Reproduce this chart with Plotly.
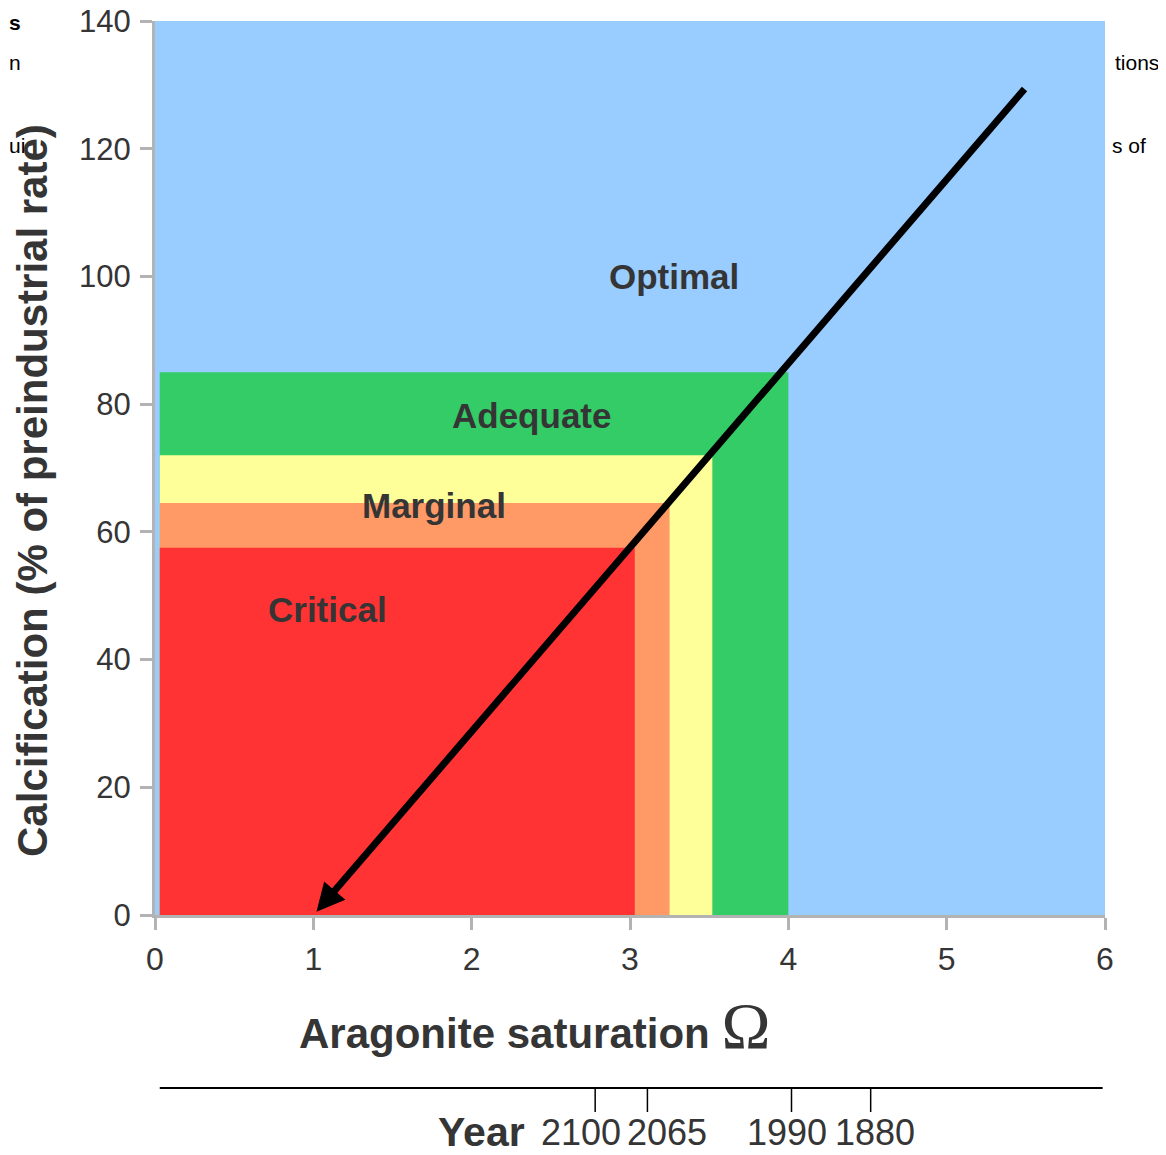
import plotly.graph_objects as go

# ---------------- data ----------------
zone_names = ["Adequate", "Marginal (upper)", "Marginal (lower)", "Critical"]
zone_x_max = [4.00, 3.52, 3.25, 3.03]          # aragonite saturation limit of each zone
zone_y_max = [85.0, 72.0, 64.5, 57.5]          # calcification (% of preindustrial rate)
zone_colors = ["#33cc66", "#ffff99", "#ff9966", "#ff3333"]
zone_x_min = 0.03

label_text = ["Optimal", "Adequate", "Marginal", "Critical"]
label_x = [3.28, 2.38, 1.76, 1.09]
label_y = [100.0, 78.3, 64.2, 47.8]

arrow_start = (5.50, 129.6)   # (Ω, calcification)
arrow_end = (1.02, 0.5)

year_labels = ["2100", "2065", "1990", "1880"]
year_omega = [2.78, 3.11, 4.02, 4.52]
year_label_shift = [-14, 20, -5, 4]

x_ticks = [0, 1, 2, 3, 4, 5, 6]
y_ticks = [0, 20, 40, 60, 80, 100, 120, 140]

# ---------------- figure ----------------
OFF = 8                       # default page body margin
W, H = 1166 - OFF, 1155 - OFF
ML, MT = 155 - OFF, 21 - OFF
PW, PH = 950, 894
MR, MB = W - ML - PW, H - MT - PH

def px_x(p):                  # page pixel -> paper x
    return (p - OFF - ML) / PW

def px_y(p):                  # page pixel -> paper y
    return (MT + PH - (p - OFF)) / PH

TXT = "#353535"
AX = "#b3b3b3"
FONT = "Liberation Sans, Arial, sans-serif"

fig = go.Figure()
fig.add_trace(go.Scatter(x=[0, 6], y=[0, 140], mode="markers",
                         marker=dict(opacity=0), hoverinfo="skip", showlegend=False))

shapes = []
for x1, y1, c in zip(zone_x_max, zone_y_max, zone_colors):
    shapes.append(dict(type="rect", xref="x", yref="y", x0=zone_x_min, x1=x1, y0=0, y1=y1,
                       fillcolor=c, line=dict(width=0), layer="below"))

# Year axis (secondary scale drawn with the Ω axis scale)
y_line = px_y(1088)
y_tick_end = px_y(1112)
shapes.append(dict(type="line", xref="x", yref="paper", x0=0.03, x1=5.985, y0=y_line, y1=y_line,
                   line=dict(color="black", width=2)))
for xo in year_omega:
    shapes.append(dict(type="line", xref="x", yref="paper", x0=xo, x1=xo, y0=y_line, y1=y_tick_end,
                       line=dict(color="black", width=1.5)))

annotations = []
for t, x, y in zip(label_text, label_x, label_y):
    annotations.append(dict(x=x, y=y, xref="x", yref="y", text=f"<b>{t}</b>", showarrow=False,
                            xanchor="center", yanchor="middle",
                            font=dict(family=FONT, size=35, color=TXT)))

# arrow
annotations.append(dict(x=arrow_end[0], y=arrow_end[1], ax=arrow_start[0], ay=arrow_start[1],
                        xref="x", yref="y", axref="x", ayref="y", text="", showarrow=True,
                        arrowhead=2, arrowsize=0.8, arrowwidth=7, arrowcolor="black", standoff=0))

# year labels
y_lab = px_y(1132)
for t, xo, sh in zip(year_labels, year_omega, year_label_shift):
    annotations.append(dict(x=xo, y=y_lab, xref="x", yref="paper", text=t, showarrow=False,
                            xshift=sh, xanchor="center", yanchor="middle",
                            font=dict(family=FONT, size=36, color=TXT)))
annotations.append(dict(x=px_x(481), y=y_lab, xref="paper", yref="paper", text="<b>Year</b>",
                        showarrow=False, xanchor="center", yanchor="middle",
                        font=dict(family=FONT, size=41, color=TXT)))

# axis titles
annotations.append(dict(x=px_x(297), y=px_y(1025), xref="paper", yref="paper", xanchor="left",
                        yanchor="middle", showarrow=False,
                        text="<b>Aragonite saturation</b> <span style='font-family:Liberation Serif, serif; font-size:66px'>Ω</span>",
                        font=dict(family=FONT, size=42, color=TXT)))
annotations.append(dict(x=px_x(33), y=px_y(491), xref="paper", yref="paper", textangle=-90,
                        xanchor="center", yanchor="middle",
                        showarrow=False, text="<b>Calcification (% of preindustrial rate)</b>",
                        font=dict(family=FONT, size=42, color=TXT)))

# clipped fragments of surrounding page text
frag = [("<b>s</b>", 8, 22, "left"), ("n", 8, 62, "left"), ("ui", 8, 145, "left"),
        ("tions", 1160, 62, "right"), ("s of", 1147, 145, "right")]
for t, xp, yp, anc in frag:
    annotations.append(dict(x=px_x(xp), y=px_y(yp), xref="paper", yref="paper", text=t,
                            xanchor=anc, yanchor="middle", showarrow=False, borderpad=0,
                            font=dict(family=FONT, size=21, color="black")))

fig.update_layout(
    width=W, height=H,
    margin=dict(l=ML, r=MR, t=MT, b=MB, pad=0, autoexpand=False),
    paper_bgcolor="white", plot_bgcolor="#99ccff",
    showlegend=False,
    shapes=shapes, annotations=annotations,
    xaxis=dict(range=[0, 6], tickvals=x_ticks, showgrid=False, zeroline=False, automargin=False,
               showline=True, linecolor=AX, linewidth=3, ticks="outside", ticklen=12,
               tickwidth=3, tickcolor=AX, ticklabelstandoff=2, ticklabeloverflow="allow",
               tickfont=dict(family=FONT, size=32, color=TXT), fixedrange=True),
    yaxis=dict(range=[0, 140], tickvals=y_ticks, showgrid=False, zeroline=False, automargin=False,
               showline=True, linecolor=AX, linewidth=3, ticks="outside", ticklen=12,
               tickwidth=3, tickcolor=AX, ticklabelstandoff=3, ticklabeloverflow="allow",
               tickfont=dict(family=FONT, size=31, color=TXT), fixedrange=True),
)

fig.write_html("out.html")
